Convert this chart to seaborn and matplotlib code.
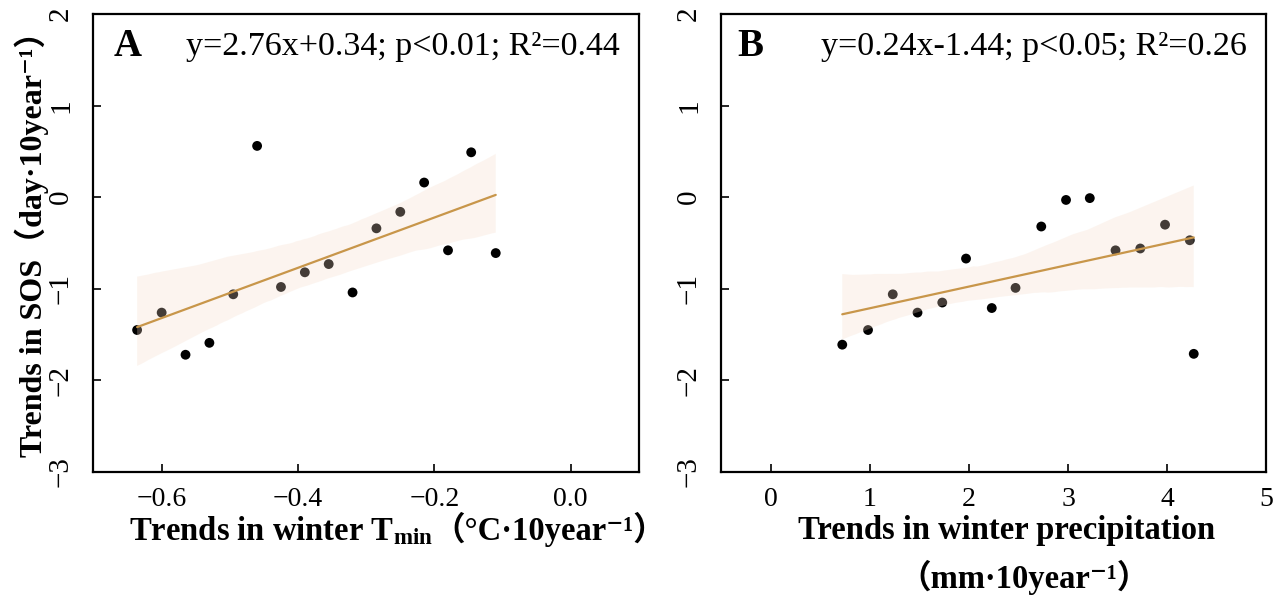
import numpy as np
import pandas as pd
import matplotlib
matplotlib.use("Agg")
import matplotlib.pyplot as plt
from matplotlib.collections import PolyCollection
import seaborn as sns

# ---- data ----
tmin_trend = [-0.636, -0.600, -0.565, -0.530, -0.495, -0.460, -0.425, -0.390,
              -0.355, -0.320, -0.285, -0.250, -0.215, -0.180, -0.146, -0.110]
tmin_sos = [-1.45, -1.26, -1.72, -1.59, -1.06, 0.56, -0.98, -0.82,
            -0.73, -1.04, -0.34, -0.16, 0.16, -0.58, 0.49, -0.61]

prec_trend = [0.72, 0.98, 1.23, 1.48, 1.73, 1.97, 2.23, 2.47,
              2.73, 2.98, 3.22, 3.48, 3.73, 3.98, 4.23, 4.27]
prec_sos = [-1.61, -1.45, -1.06, -1.26, -1.15, -0.67, -1.21, -0.99,
            -0.32, -0.03, -0.01, -0.58, -0.56, -0.30, -0.47, -1.71]

xticks_a = [-0.6, -0.4, -0.2, 0.0]
xticks_b = [0, 1, 2, 3, 4, 5]
yticks = [-3, -2, -1, 0, 1, 2]

eq_a = "y=2.76x+0.34; p<0.01; R²=0.44"
eq_b = "y=0.24x-1.44; p<0.05; R²=0.26"
ylabel = "Trends in SOS（day·10year⁻¹）"
xlabel_a_main = "Trends in winter T$_{\\mathbf{min}}$"
xlabel_a_unit = "（°C·10year⁻¹）"
xlabel_b_line1 = "Trends in winter precipitation"
xlabel_b_line2 = "（mm·10year⁻¹）"

LINE_COLOR = "#c8964a"
BAND_COLOR = "#f5dbc9"

sns.set_theme(style="ticks")
plt.rcParams["font.family"] = ["Liberation Serif", "DejaVu Serif", "DejaVu Sans", "Noto Sans CJK SC"]
plt.rcParams["axes.unicode_minus"] = True
plt.rcParams["text.color"] = "black"
plt.rcParams["axes.labelcolor"] = "black"
plt.rcParams["xtick.color"] = "black"
plt.rcParams["ytick.color"] = "black"
plt.rcParams["mathtext.fontset"] = "custom"
plt.rcParams["mathtext.rm"] = "Liberation Serif"
plt.rcParams["mathtext.bf"] = "Liberation Serif:bold"
plt.rcParams["mathtext.it"] = "Liberation Serif:italic"

fig = plt.figure(figsize=(12.84, 5.98), dpi=100)
axA = fig.add_axes([0.0728, 0.2107, 0.4248, 0.7659])
axB = fig.add_axes([0.5619, 0.2107, 0.4241, 0.7659])


def panel(ax, x, y, xlim, xticks, letter, eq, letx, eqx):
    df = pd.DataFrame({"x": x, "y": y})
    sns.scatterplot(data=df, x="x", y="y", ax=ax, color="black", s=50,
                    edgecolor="none", linewidth=0, zorder=2)
    sns.regplot(data=df, x="x", y="y", ax=ax, scatter=False, ci=95, seed=3,
                color=LINE_COLOR, line_kws=dict(lw=1.6, zorder=4))
    for coll in ax.collections:
        if isinstance(coll, PolyCollection):
            coll.set_facecolor(BAND_COLOR)
            coll.set_alpha(0.28)
            coll.set_edgecolor("none")
            coll.set_zorder(3)
    ax.set_xlim(*xlim)
    ax.set_ylim(-3, 2)
    ax.set_xticks(xticks)
    ax.set_yticks(yticks)
    ax.tick_params(direction="in", length=6, width=1.2, colors="black")
    ax.tick_params(axis="y", pad=14, labelsize=21)
    ax.tick_params(axis="x", pad=11, labelsize=20)
    for lab in ax.get_yticklabels():
        lab.set_rotation(90)
        lab.set_va("center")
    for sp in ax.spines.values():
        sp.set_linewidth(1.6)
        sp.set_color("black")
    ax.set_xlabel("")
    ax.set_ylabel("")
    ax.text(letx, 0.928, letter, transform=ax.transAxes, fontsize=28,
            fontweight="bold", va="center", ha="left")
    ax.text(eqx, 0.928, eq, transform=ax.transAxes, fontsize=24.5,
            va="center", ha="left")


panel(axA, tmin_trend, tmin_sos, (-0.7, 0.1), xticks_a, "A", eq_a, 0.037, 0.170)
panel(axB, prec_trend, prec_sos, (-0.5, 5), xticks_b, "B", eq_b, 0.029, 0.183)

axA.set_ylabel(ylabel, fontsize=23, fontweight="bold", va="center")
axA.yaxis.set_label_coords(-0.113, 0.515)

# x label of panel A: main part with subscript, then the unit
t_main = axA.text(0.065, -0.148, xlabel_a_main, transform=axA.transAxes,
                  fontsize=23.5, fontweight="bold", ha="left", va="baseline")
fig.canvas.draw()
bb = t_main.get_window_extent()
x_end = axA.transAxes.inverted().transform((bb.x1, bb.y0))[0]
axA.text(x_end, -0.148, xlabel_a_unit, transform=axA.transAxes,
         fontsize=23.5, fontweight="bold", ha="left", va="baseline")

# x label of panel B on two lines
axB.text(0.524, -0.127, xlabel_b_line1, transform=axB.transAxes,
         fontsize=23.5, fontweight="bold", ha="center", va="center")
axB.text(0.555, -0.231, xlabel_b_line2, transform=axB.transAxes,
         fontsize=23.5, fontweight="bold", ha="center", va="center")

fig.savefig("out.png", dpi=100, facecolor="white")
